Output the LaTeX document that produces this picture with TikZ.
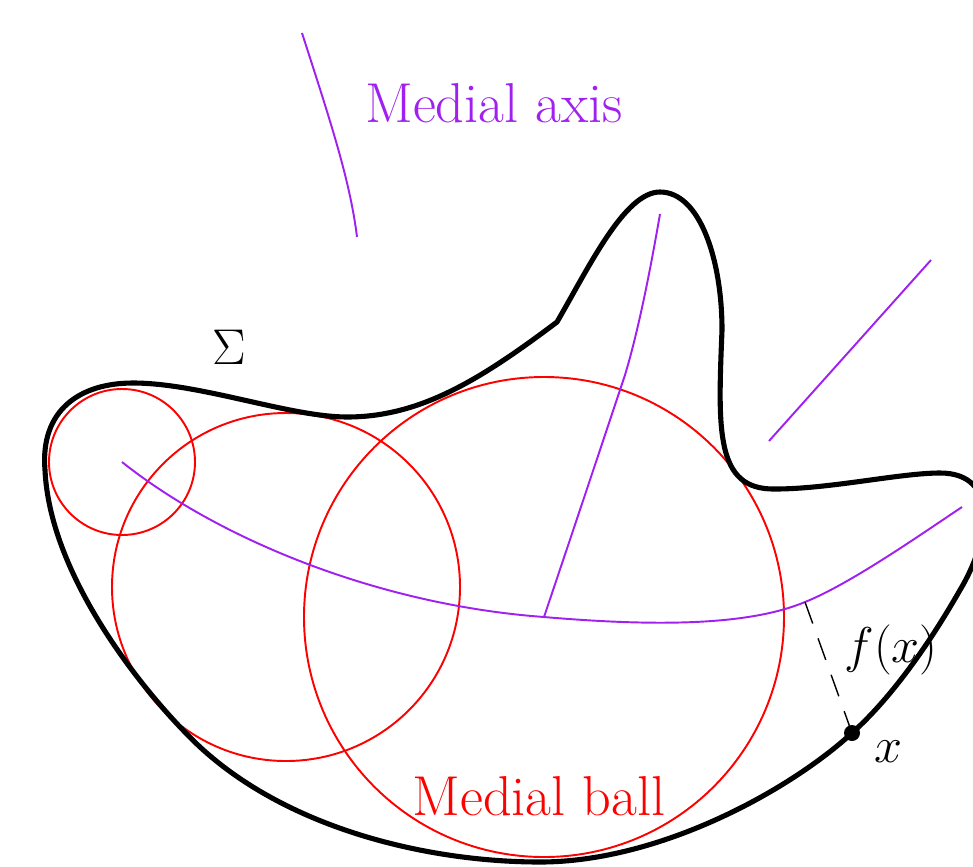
\documentclass[tikz,border=0pt]{standalone}
\definecolor{medial}{RGB}{160,32,240}
\tikzset{
  outline/.style={line width=2.9pt, line join=round},
  ball/.style={red, line width=1.1pt},
  axis/.style={medial, line width=1.1pt},
  lbl/.style={anchor=base, inner sep=0pt, font=\fontsize{32}{38}\selectfont},
  mlbl/.style={anchor=base, inner sep=0pt, font=\fontsize{24.88}{30}\selectfont, scale=1.15},
}
\begin{document}
\begin{tikzpicture}[x=0.02cm, y=-0.02cm]
\useasboundingbox (0,0) rectangle (973,866);
% medial balls
\node[ball, draw, circle, minimum size=146*0.02cm, inner sep=0pt] (b1) at (122,462) {};
\node[ball, draw, circle, minimum size=348*0.02cm, inner sep=0pt] (b2) at (286,587) {};
\node[ball, draw, circle, minimum size=480*0.02cm, inner sep=0pt] (b3) at (544,617) {};
% medial axis
\coordinate (c1) at (122,462);
\coordinate (c3) at (544,617);
\coordinate (tip) at (660,214);
\coordinate (rend) at (962,507);
\draw[axis] (c1) .. controls (220,540) and (380,605) .. (c3)
                 .. controls (660,627) and (750,625) .. (805,602)
                 .. controls (850,584) and (920,535) .. (rend);
\draw[axis] (c3) .. controls (580,510) and (610,420) .. (625,375)
                 .. controls (640,325) and (652,260) .. (tip);
\coordinate (d1) at (769,441);
\coordinate (d2) at (931,260);
\draw[axis] (d1) -- (d2);
\coordinate (t1) at (302,33);
\coordinate (t2) at (357,237);
\draw[axis] (t1) .. controls (330,120) and (350,180) .. (t2);
% outline Sigma
\draw[outline] (557,322) .. controls (590,265) and (625,192) .. (660,192)
  .. controls (700,192) and (722,260) .. (722,330)
  .. controls (718,430) and (715,490) .. (775,489)
  .. controls (830,489) and (900,473) .. (940,473)
  .. controls (1000,473) and (990,540) .. (960,590)
  .. controls (940,625) and (900,690) .. (852,733)
  .. controls (790,790) and (660,862) .. (540,862)
  .. controls (430,862) and (290,830) .. (200,747)
  .. controls (150,700) and (50,580) .. (45,470)
  .. controls (40,410) and (80,383) .. (133,383)
  .. controls (200,383) and (290,417) .. (347,417)
  .. controls (420,417) and (480,380) .. (557,322) -- cycle;
% point x
\coordinate (fx) at (805,602);
\node[circle, fill=black, minimum size=16*0.02cm, inner sep=0pt] (xpt) at (852,733) {};
\draw[line width=0.8pt, dash pattern=on 13pt off 9pt] (fx) -- (xpt.center);
% labels
\node[lbl, medial] (ma) at (494,122) {Medial axis};
\node[lbl, red] (mb) at (539,815) {Medial ball};
\node[mlbl] (sig) at (229,364) {$\Sigma$};
\node[mlbl] (flab) at (891,662) {$f(x)$};
\node[mlbl] (xlab) at (888,762) {$x$};
\end{tikzpicture}
\end{document}
